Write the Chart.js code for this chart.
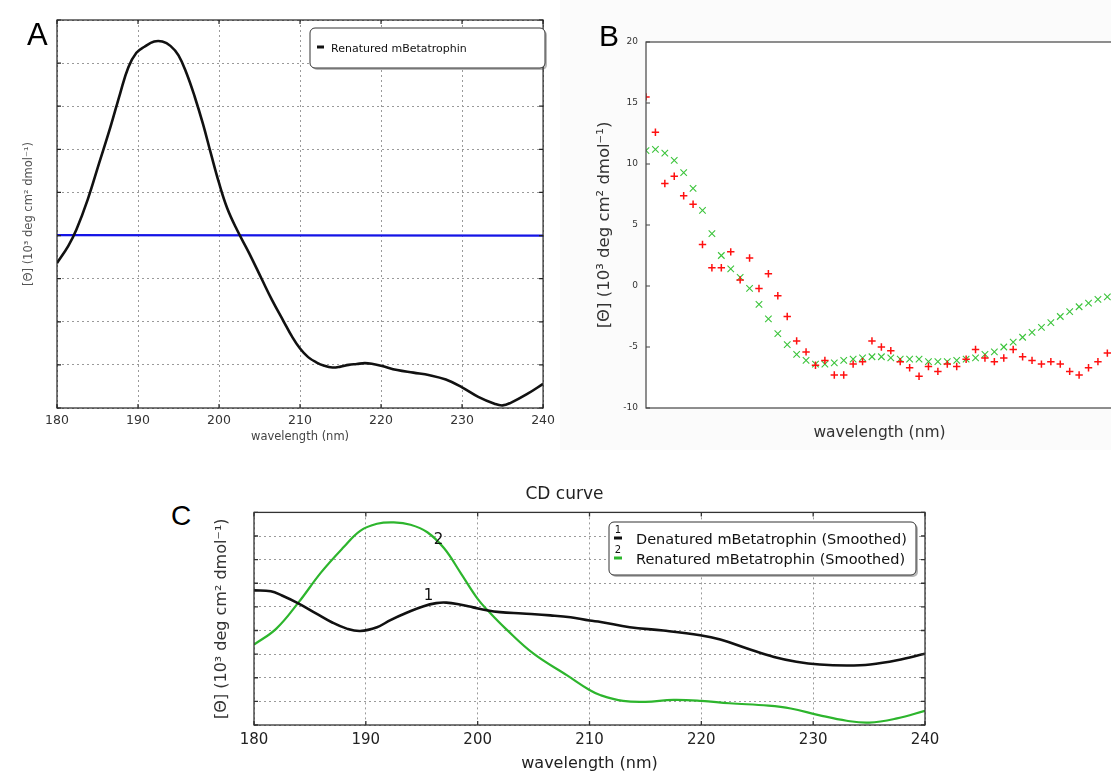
<!DOCTYPE html>
<html>
<head>
<meta charset="utf-8">
<title>CD spectra of mBetatrophin</title>
<script src="https://cdn.jsdelivr.net/npm/chart.js@4.4.0/dist/chart.umd.min.js"></script>
<style>
  html, body { margin: 0; padding: 0; background: #fff; overflow: hidden; width: 1111px; height: 773px; }
  .panel { position: absolute; }
  .letter { position: absolute; font-family: "Liberation Sans", Arial, sans-serif; color: #000; line-height: 1; }
</style>
</head>
<body>
<div class="panel" style="left:0;top:0;width:560px;height:450px"><canvas id="chartA"></canvas></div>
<div class="panel" style="left:560px;top:0;width:560px;height:450px"><canvas id="chartB"></canvas></div>
<div class="panel" style="left:204px;top:480px;width:771px;height:293px"><canvas id="chartC"></canvas></div>
<div class="letter" style="left:27px;top:19px;font-size:31px">A</div>
<div class="letter" style="left:599px;top:21px;font-size:30px">B</div>
<div class="letter" style="left:171px;top:502px;font-size:28px">C</div>
<script>
// panel A: renatured mBetatrophin (black) and blue baseline
const aWavelength = [180, 181.4, 182.4, 183.8, 185.2, 186.6, 187.8, 188.8, 189.8, 190.8, 192, 193, 194, 195, 196, 197,
  198, 199, 200, 201, 202.2, 203.7, 205.3, 206.5, 208, 209, 210, 211, 212, 213, 214, 215, 216, 217, 218, 219, 220,
  222, 224, 226, 228, 230, 232, 234, 235, 236, 238, 240];
const aValues = [-3.2, -1.2, 0.7, 4.2, 8.4, 12.6, 16.5, 19.5, 21.2, 21.9, 22.5, 22.5, 22.0, 20.9, 18.8, 16.1,
  13.0, 9.5, 6.1, 3.2, 0.7, -2.0, -5.1, -7.4, -10.0, -11.7, -13.1, -14.1, -14.7, -15.1, -15.3, -15.2, -15.0, -14.9, -14.8, -14.9, -15.1,
  -15.6, -15.9, -16.2, -16.7, -17.6, -18.7, -19.5, -19.7, -19.4, -18.4, -17.2];
const baseWavelength = [180, 240];
const baseValues = [0.05, 0];

// panel C: denatured (black) and renatured (green), smoothed
const denWavelength = [180, 181.5, 182.5, 184, 185.5, 187, 188.3, 189.5, 191, 192.2, 193.7, 195.1, 196.3, 197.2,
  198.4, 199.6, 200.8, 202, 204, 206.5, 208.3, 210, 211, 213.6, 216.6, 219.9, 221.7, 224.1, 226.5, 228.5,
  230.6, 233, 235.1, 237.5, 240];
const denValues = [8.5, 8.3, 7.4, 5.7, 3.7, 1.7, 0.4, -0.1, 0.7, 2.2, 3.8, 5.1, 5.8, 5.9,
  5.5, 4.9, 4.3, 3.9, 3.6, 3.2, 2.8, 2.1, 1.8, 0.7, 0.0, -1.0, -1.9, -3.8, -5.6, -6.6,
  -7.2, -7.4, -7.2, -6.3, -4.9];
const renWavelength = [180, 182, 184, 186, 188, 189.5, 191, 192.5, 194, 195.5, 197, 198.5, 200, 201, 202.5,
  205, 208, 210, 211, 213, 215, 217.5, 220, 222.5, 226, 228, 230.5, 233, 235, 237.5, 240];
const renValues = [-3.0, 0.4, 6.0, 12.3, 17.6, 21.1, 22.6, 22.9, 22.4, 20.8, 17.4, 12.1, 6.7, 4.0, 0.4,
  -4.9, -9.5, -12.6, -13.7, -14.9, -15.1, -14.7, -14.9, -15.4, -15.9, -16.5, -17.9, -19.1, -19.5, -18.6, -17.0];

// panel B raw points
const bWavelength = [190, 191, 192, 193, 194, 195, 196, 197, 198, 199,
  200, 201, 202, 203, 204, 205, 206, 207, 208, 209,
  210, 211, 212, 213, 214, 215, 216, 217, 218, 219,
  220, 221, 222, 223, 224, 225, 226, 227, 228, 229,
  230, 231, 232, 233, 234, 235, 236, 237, 238, 239];
const bRed = [15.5, 12.6, 8.4, 9.0, 7.4, 6.7, 3.4, 1.5, 1.5, 2.8,
  0.5, 2.3, -0.2, 1.0, -0.8, -2.5, -4.5, -5.4, -6.5, -6.1,
  -7.3, -7.3, -6.4, -6.2, -4.5, -5.0, -5.3, -6.2, -6.7, -7.4,
  -6.6, -7.0, -6.4, -6.6, -6.0, -5.2, -5.9, -6.2, -5.9, -5.2,
  -5.8, -6.1, -6.4, -6.2, -6.4, -7.0, -7.3, -6.7, -6.2, -5.5];
const bGreen = [11.1, 11.2, 10.9, 10.3, 9.3, 8.0, 6.2, 4.3, 2.5, 1.4,
  0.7, -0.2, -1.5, -2.7, -3.9, -4.8, -5.6, -6.1, -6.4, -6.4,
  -6.3, -6.1, -6.0, -5.9, -5.8, -5.8, -5.9, -6.0, -6.0, -6.0,
  -6.2, -6.2, -6.2, -6.1, -6.0, -5.9, -5.6, -5.4, -5.0, -4.6,
  -4.2, -3.8, -3.4, -3.0, -2.5, -2.1, -1.7, -1.4, -1.1, -0.9];

const xTicksCD = [180, 190, 200, 210, 220, 230, 240];
const yTitle = '[\u0398] (10\u00b3 deg cm\u00b2 dmol\u207b\u00b9)';

Chart.defaults.font.family = '"DejaVu Sans", sans-serif';
Chart.defaults.animation = false;

const pts = (xs, ys) => xs.map((x, i) => ({ x: x, y: ys[i] }));

// backgrounds, box frame, inward tick marks, curve notes and the boxed legend
const panelDecor = {
  id: 'panelDecor',
  beforeDraw(chart, args, o) {
    const { ctx, chartArea: a } = chart;
    ctx.save();
    if (o.pageColor) { ctx.fillStyle = o.pageColor; ctx.fillRect(0, 0, chart.width, chart.height); }
    if (o.plotColor) { ctx.fillStyle = o.plotColor; ctx.fillRect(a.left, a.top, a.width, a.height); }
    ctx.restore();
  },
  afterDatasetsDraw(chart, args, o) {
    const { ctx, chartArea: a, scales } = chart;
    ctx.save();
    ctx.strokeStyle = o.frameColor;
    ctx.lineWidth = o.frameWidth;
    ctx.strokeRect(a.left, a.top, a.width, a.height);
    ctx.beginPath();
    if (o.xTicks) {
      scales.x.ticks.forEach(t => {
        const px = scales.x.getPixelForValue(t.value);
        ctx.moveTo(px, a.bottom); ctx.lineTo(px, a.bottom - o.tickLen);
        ctx.moveTo(px, a.top); ctx.lineTo(px, a.top + o.tickLen);
      });
    }
    if (o.yTicks) {
      scales.y.ticks.forEach(t => {
        const py = scales.y.getPixelForValue(t.value);
        ctx.moveTo(a.left, py); ctx.lineTo(a.left + o.tickLen, py);
        if (o.yTicksRight) { ctx.moveTo(a.right, py); ctx.lineTo(a.right - o.tickLen, py); }
      });
    }
    ctx.stroke();

    (o.notes || []).forEach(n => {
      ctx.fillStyle = '#111';
      ctx.font = n.size + 'px "DejaVu Sans", sans-serif';
      ctx.textAlign = 'center';
      ctx.textBaseline = 'middle';
      ctx.fillText(n.text, scales.x.getPixelForValue(n.x), scales.y.getPixelForValue(n.y));
    });

    const lg = o.box;
    if (lg) {
      ctx.fillStyle = 'rgba(0,0,0,0.28)';
      ctx.beginPath(); ctx.roundRect(lg.x + 2, lg.y + 2, lg.w, lg.h, 5); ctx.fill();
      ctx.fillStyle = '#fff';
      ctx.strokeStyle = '#333';
      ctx.lineWidth = 1;
      ctx.beginPath(); ctx.roundRect(lg.x, lg.y, lg.w, lg.h, 5); ctx.fill(); ctx.stroke();
      lg.rows.forEach(r => {
        const ds = chart.data.datasets[r.dataset];
        ctx.strokeStyle = ds.borderColor;
        ctx.lineWidth = 3;
        ctx.beginPath(); ctx.moveTo(lg.sampleX, r.y - 1); ctx.lineTo(lg.sampleX + lg.sampleW, r.y - 1); ctx.stroke();
        ctx.fillStyle = '#111';
        ctx.textBaseline = 'middle';
        if (r.num) {
          ctx.font = '10px "DejaVu Sans", sans-serif';
          ctx.textAlign = 'center';
          ctx.fillText(r.num, lg.sampleX + lg.sampleW / 2, r.y - 9);
        }
        ctx.font = lg.size + 'px "DejaVu Sans", sans-serif';
        ctx.textAlign = 'left';
        ctx.fillText(ds.label, lg.textX, r.y + 1);
      });
    }
    ctx.restore();
  }
};

// ---------- panel A ----------
new Chart(document.getElementById('chartA'), {
  type: 'line',
  data: {
    datasets: [{
      label: 'Renatured mBetatrophin',
      data: pts(aWavelength, aValues),
      borderColor: '#111',
      borderWidth: 2.6,
      pointRadius: 0,
      tension: 0.4
    }, {
      label: 'baseline',
      data: pts(baseWavelength, baseValues),
      borderColor: '#1414e6',
      borderWidth: 2.2,
      pointRadius: 0
    }]
  },
  options: {
    responsive: true,
    maintainAspectRatio: false,
    layout: { padding: { top: 20, right: 7, left: 0, bottom: 0 } },
    plugins: {
      legend: { display: false },
      tooltip: { enabled: false },
      panelDecor: {
        frameColor: '#222', frameWidth: 1.2, tickLen: 4, xTicks: true, yTicks: true, yTicksRight: true,
        box: { x: 310, y: 28, w: 235, h: 40, sampleX: 317, sampleW: 7, textX: 331, size: 11,
          rows: [{ dataset: 0, y: 48 }] }
      }
    },
    scales: {
      x: {
        type: 'linear', min: 180, max: 240,
        afterBuildTicks: s => { s.ticks = xTicksCD.map(v => ({ value: v })); },
        afterFit: s => { s.height = 42; },
        ticks: { font: { size: 12.5 }, color: '#333', padding: 5 },
        grid: { color: '#9a9a9a', drawTicks: false },
        border: { display: false, dash: [2, 3] },
        title: { display: true, text: 'wavelength (nm)', font: { size: 11.5 }, color: '#444', padding: { top: 0, bottom: 6 } }
      },
      y: {
        type: 'linear', min: -20, max: 25,
        ticks: { display: false, stepSize: 5 },
        afterFit: s => { s.width = 57; },
        grid: { color: '#9a9a9a', drawTicks: false },
        border: { display: false, dash: [2, 3] },
        title: { display: true, text: yTitle, font: { size: 11.5 }, color: '#555', padding: { top: 22, bottom: 0 } }
      }
    }
  },
  plugins: [panelDecor]
});

// ---------- panel B ----------
new Chart(document.getElementById('chartB'), {
  type: 'scatter',
  data: {
    datasets: [{
      label: 'red',
      data: pts(bWavelength, bRed),
      pointStyle: 'cross',
      pointRadius: 3.7,
      borderColor: '#ff1010',
      backgroundColor: '#ff1010',
      pointBorderWidth: 1.5
    }, {
      label: 'green',
      data: pts(bWavelength, bGreen),
      pointStyle: 'crossRot',
      pointRadius: 4.6,
      borderColor: '#3cc43c',
      backgroundColor: '#3cc43c',
      pointBorderWidth: 1.1
    }]
  },
  options: {
    responsive: true,
    maintainAspectRatio: false,
    layout: { padding: { top: 42, right: 7, left: 0, bottom: 0 } },
    plugins: {
      legend: { display: false },
      tooltip: { enabled: false },
      panelDecor: { pageColor: '#fbfbfb', plotColor: '#ffffff', frameColor: '#444', frameWidth: 1.2, tickLen: 4, xTicks: false, yTicks: true }
    },
    scales: {
      x: {
        type: 'linear', min: 190, max: 239.6,
        ticks: { display: false },
        grid: { display: false },
        border: { display: false },
        afterFit: s => { s.height = 42; },
        title: { display: true, text: 'wavelength (nm)', font: { size: 15.5 }, color: '#333', padding: { top: 0, bottom: 8 } }
      },
      y: {
        type: 'linear', min: -10, max: 20,
        ticks: { stepSize: 5, font: { size: 9 }, color: '#333', padding: 8 },
        grid: { display: false, drawTicks: false },
        border: { display: false },
        afterFit: s => { s.width = 86; },
        title: { display: true, text: yTitle, font: { size: 16.5 }, color: '#333', padding: { top: 35, bottom: 0 } }
      }
    }
  },
  plugins: [panelDecor]
});

// ---------- panel C ----------
new Chart(document.getElementById('chartC'), {
  type: 'line',
  data: {
    datasets: [{
      label: 'Denatured mBetatrophin (Smoothed)',
      data: pts(denWavelength, denValues),
      borderColor: '#111',
      borderWidth: 2.6,
      pointRadius: 0,
      tension: 0.4
    }, {
      label: 'Renatured mBetatrophin (Smoothed)',
      data: pts(renWavelength, renValues),
      borderColor: '#2db52d',
      borderWidth: 2.2,
      pointRadius: 0,
      tension: 0.4
    }]
  },
  options: {
    responsive: true,
    maintainAspectRatio: false,
    layout: { padding: { top: 0, right: 50, left: 0, bottom: 0 } },
    plugins: {
      legend: { display: false },
      tooltip: { enabled: false },
      title: { display: true, text: 'CD curve', font: { size: 17, weight: 'normal' }, color: '#222', padding: { top: 4, bottom: 8 } },
      panelDecor: {
        frameColor: '#333', frameWidth: 1.3, tickLen: 4, xTicks: true, yTicks: true, yTicksRight: true,
        notes: [{ text: '1', x: 195.6, y: 7.3, size: 15 }, { text: '2', x: 196.5, y: 19.2, size: 15 }],
        box: { x: 405, y: 42, w: 307, h: 53, sampleX: 410, sampleW: 8, textX: 432, size: 14.5,
          rows: [{ dataset: 0, y: 59, num: '1' }, { dataset: 1, y: 79, num: '2' }] }
      }
    },
    scales: {
      x: {
        type: 'linear', min: 180, max: 240,
        afterBuildTicks: s => { s.ticks = xTicksCD.map(v => ({ value: v })); },
        afterFit: s => { s.height = 48; },
        ticks: { font: { size: 15 }, color: '#222', padding: 6 },
        grid: { color: '#9a9a9a', drawTicks: false },
        border: { display: false, dash: [2, 3] },
        title: { display: true, text: 'wavelength (nm)', font: { size: 16 }, color: '#222', padding: { top: 0, bottom: 0 } }
      },
      y: {
        type: 'linear', min: -20, max: 25,
        ticks: { display: false, stepSize: 5 },
        afterFit: s => { s.width = 50; },
        grid: { color: '#9a9a9a', drawTicks: false },
        border: { display: false, dash: [2, 3] },
        title: { display: true, text: yTitle, font: { size: 16 }, color: '#333', padding: { top: 8, bottom: 0 } }
      }
    }
  },
  plugins: [panelDecor]
});
</script>
</body>
</html>
